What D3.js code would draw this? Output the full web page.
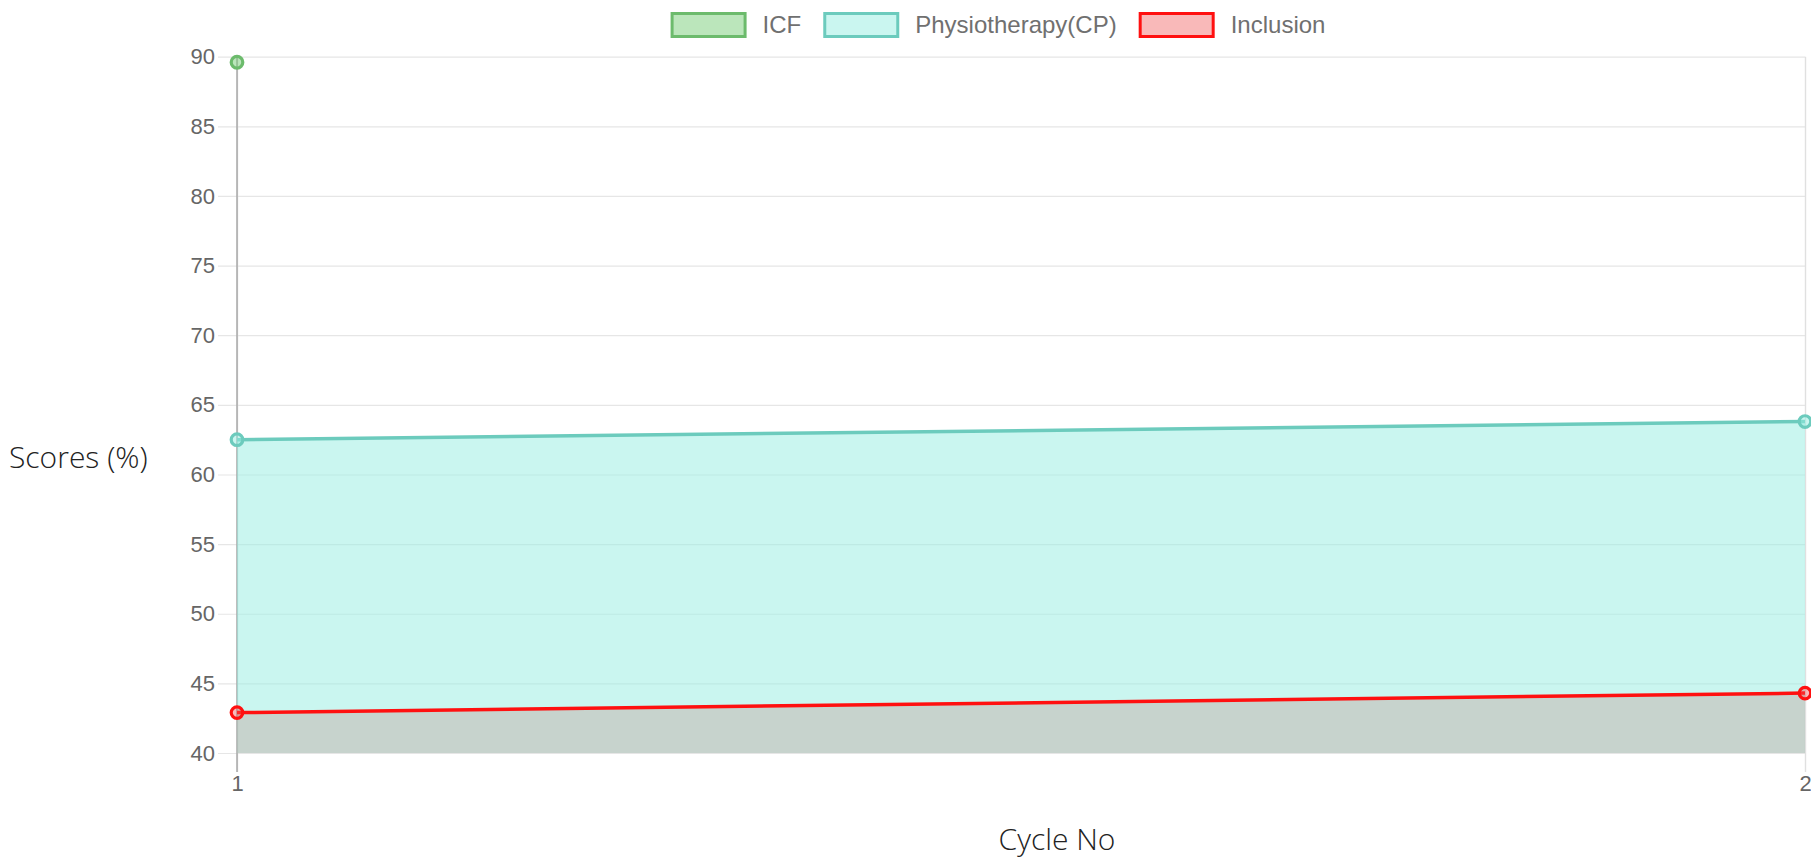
<!DOCTYPE html>
<meta charset="utf-8">
<script src="https://d3js.org/d3.v7.min.js"></script>
<style>
  body { margin: 0; background: #fff; }
  .tick text { font-family: "Liberation Sans", Arial, sans-serif; }
</style>
<body>
<div id="chart"></div>
<script>
// chart values
var cycles = [1, 2];
var icf = [89.6, null];
var physio = [62.5, 63.8];
var inclusion = [42.9, 44.3];
var yTicks = [40, 45, 50, 55, 60, 65, 70, 75, 80, 85, 90];

var datasets = [
  {name: "ICF", values: icf, line: "#6cbb6c", fill: "rgba(120,205,120,0.5)"},
  {name: "Physiotherapy(CP)", values: physio, line: "#6ccbbd", fill: "rgba(150,237,225,0.5)"},
  {name: "Inclusion", values: inclusion, line: "#ff1010", fill: "rgba(240,80,80,0.4)"}
];

var W = 1811, H = 859;
var margin = {top: 56.7, right: 6, bottom: 106, left: 237};
var width = W - margin.left - margin.right,
    height = H - margin.top - margin.bottom;

var svg = d3.select("#chart").append("svg")
    .attr("width", W).attr("height", H);
var g = svg.append("g")
    .attr("transform", "translate(" + margin.left + "," + margin.top + ")");

var x = d3.scalePoint().domain(cycles).range([0, width]);
var y = d3.scaleLinear().domain([40, 90]).range([height, 0]);

// horizontal grid + tick marks
g.append("g")
    .call(d3.axisLeft(y).tickValues(yTicks).tickSize(-width).tickPadding(4)
      .tickSizeOuter(0))
    .call(function(a) {
      a.select(".domain").remove();
      a.selectAll("line").attr("stroke", "#e6e6e6").attr("stroke-width", 1.2)
        .attr("x1", -19);
      a.selectAll("text").attr("x", -22).attr("fill", "#666")
        .style("font-size", "22px");
    });

// vertical grid
g.append("g")
    .attr("transform", "translate(0," + height + ")")
    .call(d3.axisBottom(x).tickSize(-height).tickPadding(22).tickSizeOuter(0))
    .call(function(a) {
      a.select(".domain").remove();
      a.selectAll("line").attr("stroke", "#e0e0e0").attr("stroke-width", 1.4)
        .attr("y1", 19);
      a.selectAll("text").attr("fill", "#666").style("font-size", "22px");
    });

// left axis line
g.append("line")
    .attr("x1", 0).attr("x2", 0).attr("y1", 0).attr("y2", height + 19)
    .attr("stroke", "#a8a8a8").attr("stroke-width", 1.5);

// fills, drawn last dataset first
var area = d3.area()
    .defined(function(d) { return d != null; })
    .x(function(d, i) { return x(cycles[i]); })
    .y0(height)
    .y1(function(d) { return y(d); });
var line = d3.line()
    .defined(function(d) { return d != null; })
    .x(function(d, i) { return x(cycles[i]); })
    .y(function(d) { return y(d); });

var order = datasets.slice().reverse();
order.forEach(function(ds) {
  g.append("path").datum(ds.values)
    .attr("d", area).attr("fill", ds.fill);
});
order.forEach(function(ds) {
  g.append("path").datum(ds.values)
    .attr("d", line).attr("fill", "none")
    .attr("stroke", ds.line).attr("stroke-width", 3.5);
  g.selectAll(null)
    .data(ds.values.map(function(v, i) { return {v: v, c: cycles[i]}; })
      .filter(function(d) { return d.v != null; }))
    .enter().append("circle")
    .attr("cx", function(d) { return x(d.c); })
    .attr("cy", function(d) { return y(d.v); })
    .attr("r", 5.8)
    .attr("fill", ds.fill)
    .attr("stroke", ds.line).attr("stroke-width", 3.2);
});

// axis titles
svg.append("text")
    .attr("x", 9).attr("y", 468)
    .style("font-family", "'Open Sans', 'Noto Sans', sans-serif")
    .style("font-weight", 300)
    .style("font-size", "30px").attr("fill", "#222")
    .text("Scores (%)");
svg.append("text")
    .attr("x", 1057).attr("y", 850)
    .attr("text-anchor", "middle")
    .style("font-family", "'Open Sans', 'Noto Sans', sans-serif")
    .style("font-weight", 300)
    .style("font-size", "30px").attr("fill", "#222")
    .text("Cycle No");

// legend
var legend = svg.append("g");
var lx = 0;
datasets.forEach(function(ds) {
  var item = legend.append("g").attr("transform", "translate(" + lx + ",0)");
  item.append("rect")
    .attr("x", 1.5).attr("y", 13.5).attr("width", 73).attr("height", 23)
    .attr("fill", ds.fill).attr("stroke", ds.line).attr("stroke-width", 3);
  var t = item.append("text")
    .attr("x", 92).attr("y", 33)
    .style("font-family", "'Liberation Sans', Arial, sans-serif")
    .style("font-size", "24px").attr("fill", "#707070")
    .text(ds.name);
  lx += 92 + t.node().getComputedTextLength() + 22;
});
legend.attr("transform", "translate(" + (998 - (lx - 22) / 2) + ",0)");
</script>
</body>
